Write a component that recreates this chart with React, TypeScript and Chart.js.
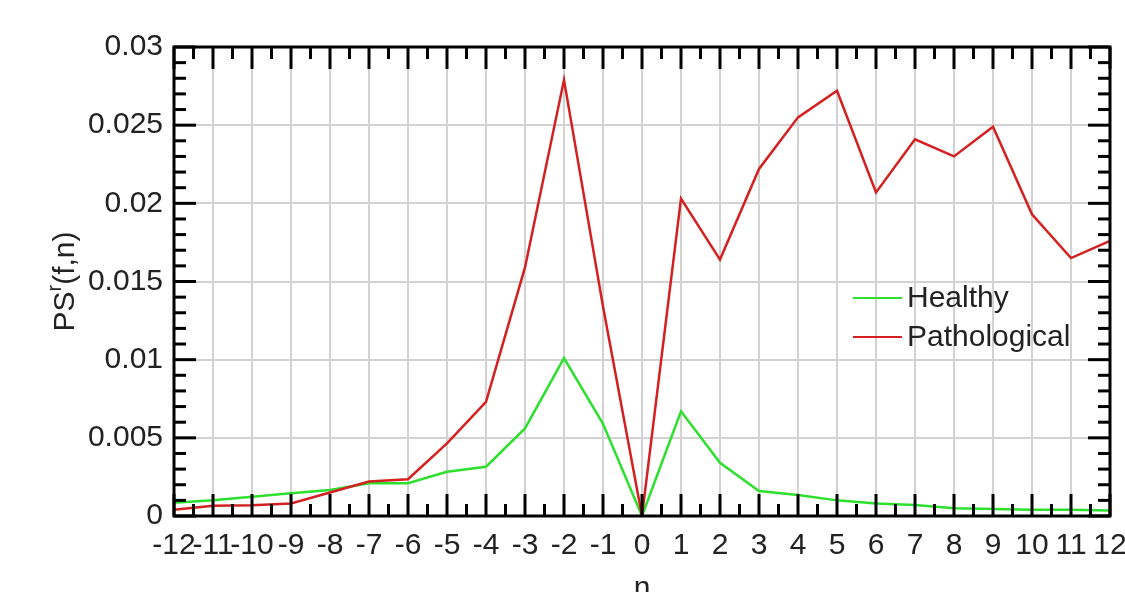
import React, { useEffect, useRef } from "react";
import { Chart, registerables } from "chart.js";

Chart.register(...registerables);

const N = [-12, -11, -10, -9, -8, -7, -6, -5, -4, -3, -2, -1, 0, 1, 2, 3, 4, 5, 6, 7, 8, 9, 10, 11, 12];
const HEALTHY = [0.00085, 0.001, 0.00123, 0.00145, 0.00166, 0.0021, 0.0021, 0.00283, 0.00315, 0.0056, 0.0101, 0.0059, 0, 0.0067, 0.0034, 0.0016, 0.00134, 0.001, 0.0008, 0.0007, 0.0005, 0.00045, 0.0004, 0.0004, 0.00035];
const PATHOLOGICAL = [0.0004, 0.00066, 0.00068, 0.0008, 0.0015, 0.0022, 0.00235, 0.00465, 0.0073, 0.0159, 0.0279, 0.0134, 0, 0.0203, 0.0164, 0.0222, 0.0255, 0.0272, 0.0207, 0.0241, 0.023, 0.0249, 0.0193, 0.0165, 0.0176];
const X_TICKS = ["-12", "-11", "-10", "-9", "-8", "-7", "-6", "-5", "-4", "-3", "-2", "-1", "0", "1", "2", "3", "4", "5", "6", "7", "8", "9", "10", "11", "12"];
const Y_TICKS = ["0", "0.005", "0.01", "0.015", "0.02", "0.025", "0.03"];
const SERIES_LABELS = ["Healthy", "Pathological"];
const X_TITLE = "n";
const Y_TITLE_MAIN = "PS";
const Y_TITLE_SUP = "r";
const Y_TITLE_REST = "(f,n)";

const FONT = "'Liberation Sans', Arial, Helvetica, sans-serif";
const GREEN = "#2ee02e";
const RED = "#d42020";
const TEXT = "#222222";

const framePlugin = {
  id: "framePlugin",
  afterDatasetsDraw(chart: any) {
    const { ctx, chartArea: a, scales } = chart;
    const x = scales.x;
    const y = scales.y;
    ctx.save();
    ctx.strokeStyle = "#000";
    ctx.lineWidth = 3;
    ctx.lineCap = "butt";
    const line = (x1: number, y1: number, x2: number, y2: number) => {
      ctx.beginPath();
      ctx.moveTo(x1, y1);
      ctx.lineTo(x2, y2);
      ctx.stroke();
    };
    for (let k = 0; k <= 48; k++) {
      const v = N[0] + k * 0.5;
      const px = x.getPixelForValue(v);
      const len = k % 2 === 0 ? 22 : 12;
      line(px, a.bottom, px, a.bottom - len);
      line(px, a.top, px, a.top + len);
    }
    for (let k = 0; k <= 30; k++) {
      const py = y.getPixelForValue(k * 0.001);
      const len = k % 5 === 0 ? 22 : 12;
      line(a.left, py, a.left + len, py);
      line(a.right, py, a.right - len, py);
    }
    ctx.strokeRect(a.left, a.top, a.right - a.left, a.bottom - a.top);

    // legend
    const lx = a.right - 257;
    const ly0 = a.top + 251;
    const gap = 39;
    ctx.font = `30px ${FONT}`;
    ctx.textBaseline = "middle";
    ctx.textAlign = "left";
    chart.data.datasets.forEach((ds: any, i: number) => {
      const yy = ly0 + i * gap;
      ctx.strokeStyle = ds.borderColor;
      ctx.lineWidth = 2;
      line(lx, yy, lx + 49, yy);
      ctx.fillStyle = TEXT;
      ctx.fillText(ds.label, lx + 54, yy + 1);
    });

    // x title
    ctx.fillStyle = TEXT;
    ctx.textAlign = "center";
    ctx.textBaseline = "alphabetic";
    ctx.font = `30px ${FONT}`;
    ctx.fillText(X_TITLE, (a.left + a.right) / 2, 597);

    // y title with superscript
    ctx.save();
    const cy = (a.top + a.bottom) / 2;
    ctx.translate(74, cy);
    ctx.rotate(-Math.PI / 2);
    ctx.textAlign = "left";
    ctx.textBaseline = "alphabetic";
    ctx.font = `30px ${FONT}`;
    const w1 = ctx.measureText(Y_TITLE_MAIN).width;
    ctx.font = `20px ${FONT}`;
    const w2 = ctx.measureText(Y_TITLE_SUP).width;
    ctx.font = `30px ${FONT}`;
    const w3 = ctx.measureText(Y_TITLE_REST).width;
    const total = w1 + w2 + w3;
    let sx = -total / 2;
    ctx.fillText(Y_TITLE_MAIN, sx, 0);
    sx += w1;
    ctx.font = `20px ${FONT}`;
    ctx.fillText(Y_TITLE_SUP, sx, -13);
    sx += w2;
    ctx.font = `30px ${FONT}`;
    ctx.fillText(Y_TITLE_REST, sx, 0);
    ctx.restore();

    ctx.restore();
  },
};

export default function App() {
  const ref = useRef<HTMLCanvasElement | null>(null);
  useEffect(() => {
    if (!ref.current) return;
    const chart = new Chart(ref.current, {
      type: "line",
      data: {
        datasets: [
          {
            label: SERIES_LABELS[0],
            data: N.map((n, i) => ({ x: n, y: HEALTHY[i] })),
            borderColor: GREEN,
            backgroundColor: GREEN,
            borderWidth: 2.5,
            pointRadius: 0,
            tension: 0,
            order: 1,
          },
          {
            label: SERIES_LABELS[1],
            data: N.map((n, i) => ({ x: n, y: PATHOLOGICAL[i] })),
            borderColor: RED,
            backgroundColor: RED,
            borderWidth: 2.5,
            pointRadius: 0,
            tension: 0,
            order: 0,
          },
        ],
      },
      options: {
        responsive: false,
        animation: false,
        events: [],
        layout: { padding: { left: 0, right: 15, top: 47, bottom: 0 } },
        plugins: {
          legend: { display: false },
          tooltip: { enabled: false },
          title: { display: false },
        },
        scales: {
          x: {
            type: "linear",
            min: -12,
            max: 12,
            grid: { color: "#d2d2d2", lineWidth: 2, drawTicks: false },
            border: { display: false },
            ticks: {
              stepSize: 1,
              autoSkip: false,
              maxRotation: 0,
              padding: 12,
              color: TEXT,
              font: { family: FONT, size: 30 },
              callback: (v: any) => X_TICKS[N.indexOf(Math.round(Number(v)))] ?? "",
            },
            afterFit: (s: any) => {
              s.height = 76;
              s.paddingLeft = 0;
              s.paddingRight = 0;
            },
          },
          y: {
            type: "linear",
            min: 0,
            max: 0.03,
            grid: { color: "#d2d2d2", lineWidth: 2, drawTicks: false },
            border: { display: false },
            ticks: {
              stepSize: 0.005,
              padding: 11,
              color: TEXT,
              font: { family: FONT, size: 30 },
              callback: (v: any) => Y_TICKS[Math.round(Number(v) / 0.005)] ?? "",
            },
            afterFit: (s: any) => {
              s.width = 174;
              s.paddingTop = 0;
              s.paddingBottom = 0;
            },
          },
        },
      },
      plugins: [framePlugin],
    });
    return () => chart.destroy();
  }, []);
  return (
    <div style={{ position: "fixed", left: 0, top: 0, width: 1125, height: 592, background: "#fff" }}>
      <canvas ref={ref} width={1125} height={592} style={{ width: 1125, height: 592, display: "block" }} />
    </div>
  );
}
